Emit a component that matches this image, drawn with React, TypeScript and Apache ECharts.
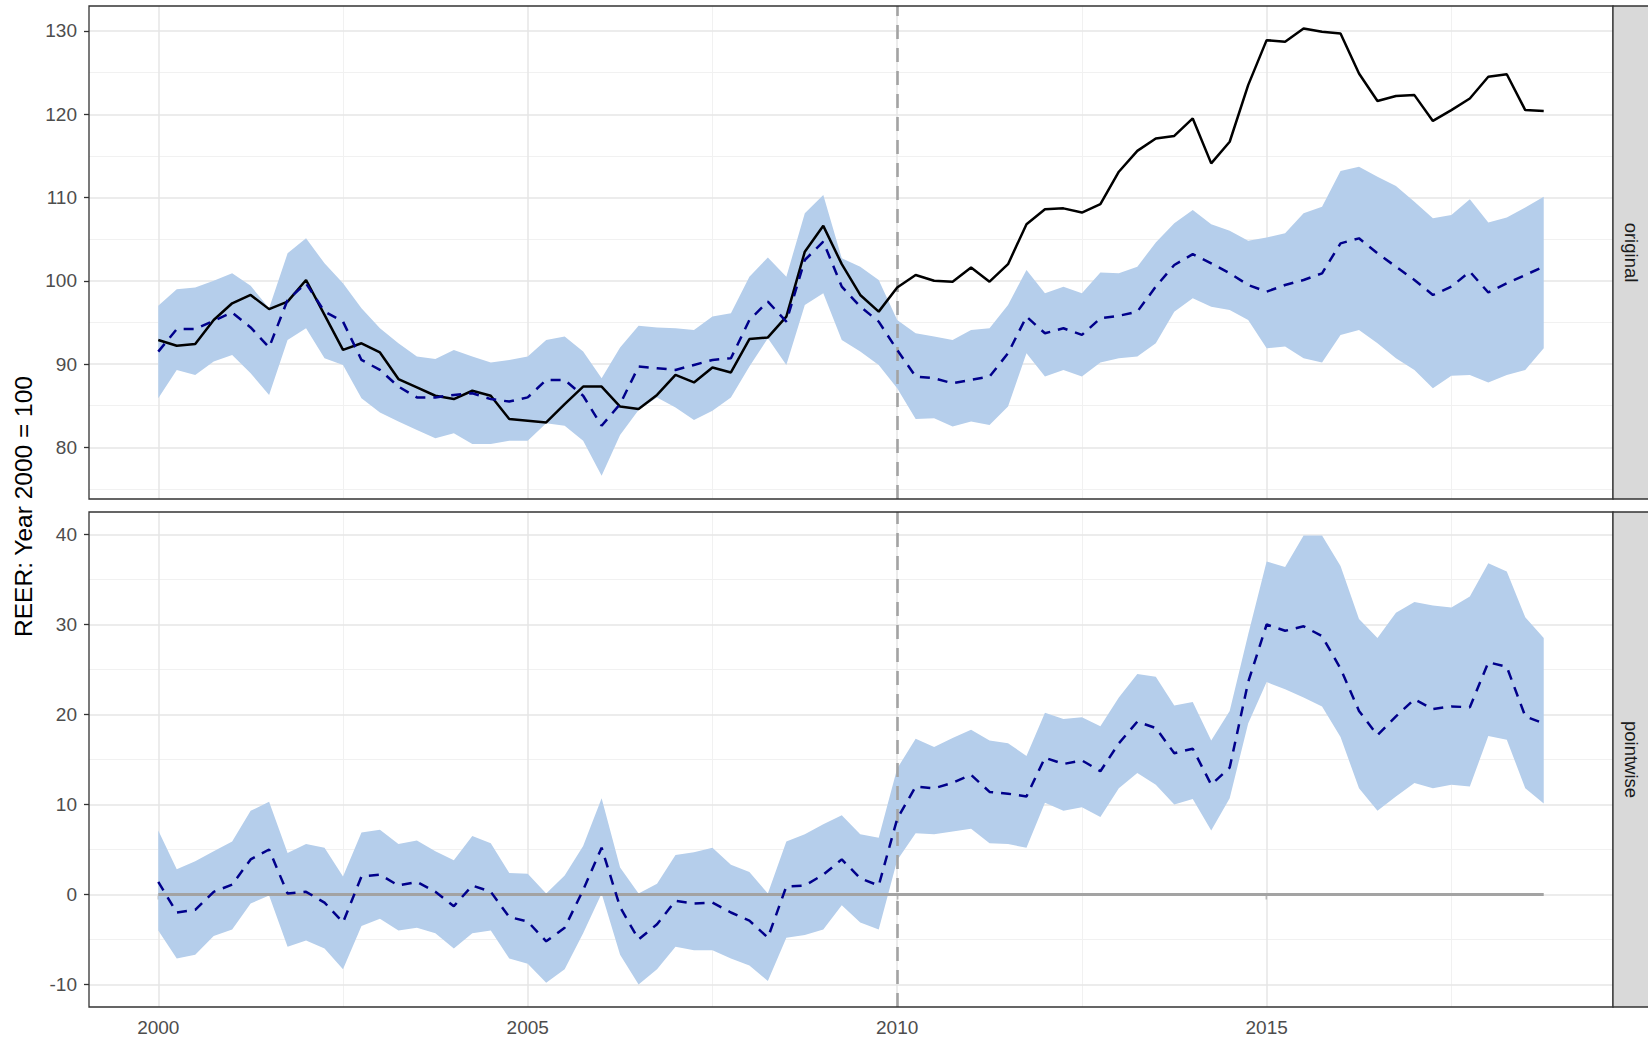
import React, { useEffect, useRef } from "react";
import * as echarts from "echarts";

// ---------- data ----------
const START_YEAR = 2000;
const N_QUARTERS = 76;
const quarters: number[] = Array.from({ length: N_QUARTERS }, (_, i) => START_YEAR + i / 4);

const xTicks = [2000, 2005, 2010, 2015];
const xMinor = [2002.5, 2007.5, 2012.5, 2017.5];
const topTicks = [80, 90, 100, 110, 120, 130];
const topMinor = [75, 85, 95, 105, 115, 125];
const botTicks = [-10, 0, 10, 20, 30, 40];
const botMinor = [-5, 5, 15, 25, 35];
const breakYear = 2010;
const facetLabels = ["original", "pointwise"];
const yTitle = "REER: Year 2000 = 100";

const originalActual = [
  92.9, 92.2, 92.4, 95.3, 97.3, 98.3, 96.6, 97.5, 100.1, 95.9,
  91.7, 92.5, 91.4, 88.2, 87.2, 86.2, 85.8, 86.8, 86.2, 83.4,
  83.2, 83.0, 85.2, 87.3, 87.3, 84.9, 84.6, 86.3, 88.7, 87.8,
  89.6, 89.0, 93.0, 93.2, 95.7, 103.5, 106.6, 102.0, 98.3, 96.3,
  99.2, 100.7, 100.0, 99.9, 101.6, 99.9, 102.0, 106.8, 108.6, 108.7,
  108.2, 109.2, 113.1, 115.6, 117.1, 117.4, 119.5, 114.1, 116.7, 123.5,
  128.9, 128.7, 130.3, 129.9, 129.7, 124.9, 121.6, 122.2, 122.3, 119.2,
  120.5, 121.9, 124.5, 124.8, 120.5, 120.4,
];
const originalMean = [
  91.5, 94.2, 94.2, 95.2, 96.2, 94.4, 92.0, 97.7, 99.7, 96.3,
  95.1, 90.5, 89.3, 87.3, 86.0, 86.0, 86.3, 86.5, 85.8, 85.5,
  86.0, 88.1, 88.1, 86.2, 82.6, 85.2, 89.7, 89.5, 89.3, 89.9,
  90.5, 90.7, 95.3, 97.5, 95.1, 102.5, 104.7, 99.3, 96.9, 95.1,
  91.7, 88.5, 88.3, 87.7, 88.1, 88.5, 91.3, 95.7, 93.7, 94.3,
  93.5, 95.5, 95.8, 96.3, 99.3, 101.9, 103.2, 102.1, 100.9, 99.5,
  98.7, 99.5, 100.1, 100.9, 104.5, 105.1, 103.3, 101.7, 100.1, 98.3,
  99.3, 101.1, 98.6, 99.7, 100.7, 101.7,
];
const originalUpper = [
  97.0, 99.0, 99.2, 100.0, 100.9, 99.4, 96.7, 103.3, 105.1, 102.1,
  99.7, 96.7, 94.3, 92.5, 90.9, 90.6, 91.7, 90.9, 90.2, 90.5,
  90.9, 92.9, 93.3, 91.5, 88.3, 92.0, 94.6, 94.4, 94.3, 94.1,
  95.7, 96.1, 100.5, 102.8, 100.5, 108.1, 110.3, 102.7, 101.7, 100.1,
  95.3, 93.7, 93.3, 92.9, 94.1, 94.3, 97.1, 101.3, 98.5, 99.3,
  98.5, 101.0, 100.9, 101.7, 104.6, 106.9, 108.5, 106.8, 106.0, 104.8,
  105.2, 105.7, 108.1, 108.9, 113.2, 113.7, 112.5, 111.4, 109.5, 107.5,
  107.9, 109.8, 107.0, 107.6, 108.8, 110.1,
];
const originalLower = [
  85.9, 89.3, 88.7, 90.3, 91.1, 88.9, 86.3, 92.9, 94.3, 90.7,
  89.9, 85.9, 84.2, 83.1, 82.1, 81.1, 81.7, 80.4, 80.4, 80.8,
  80.8, 82.9, 82.6, 80.8, 76.6, 81.5, 84.5, 86.0, 84.8, 83.3,
  84.4, 86.0, 89.7, 93.1, 89.9, 97.1, 98.5, 92.9, 91.5, 89.9,
  87.1, 83.4, 83.5, 82.5, 83.1, 82.7, 84.9, 91.3, 88.5, 89.3,
  88.5, 90.2, 90.7, 90.9, 92.5, 96.3, 97.9, 96.9, 96.5, 95.3,
  91.9, 92.1, 90.7, 90.2, 93.5, 94.1, 92.5, 90.7, 89.3, 87.1,
  88.6, 88.7, 87.8, 88.7, 89.3, 91.9,
];
const pointwiseMean = [
  1.4, -2.0, -1.7, 0.3, 1.1, 3.9, 5.0, 0.1, 0.3, -0.9,
  -3.1, 2.0, 2.2, 1.0, 1.4, 0.3, -1.3, 1.0, 0.3, -2.5,
  -3.0, -5.2, -3.7, 0.5, 5.2, -1.4, -5.0, -3.3, -0.7, -1.0,
  -0.9, -2.0, -2.9, -4.8, 0.9, 1.0, 2.2, 3.9, 1.8, 1.0,
  8.4, 12.0, 11.8, 12.4, 13.3, 11.4, 11.2, 10.9, 15.2, 14.5,
  14.9, 13.7, 16.8, 19.2, 18.5, 15.7, 16.2, 12.2, 14.1, 23.6,
  30.0, 29.3, 29.8, 28.7, 25.1, 20.4, 17.7, 19.8, 21.7, 20.6,
  20.9, 20.8, 25.8, 25.3, 19.8, 19.0,
];
const pointwiseUpper = [
  7.1, 2.8, 3.7, 4.8, 5.9, 9.3, 10.3, 4.6, 5.6, 5.2,
  2.0, 6.9, 7.2, 5.6, 6.0, 4.8, 3.8, 6.5, 5.7, 2.4,
  2.3, 0.1, 2.1, 5.4, 10.7, 3.0, 0.1, 1.2, 4.4, 4.7,
  5.2, 3.3, 2.5, 0.1, 5.9, 6.7, 7.8, 8.8, 6.7, 6.3,
  14.0, 17.3, 16.4, 17.4, 18.3, 17.1, 16.8, 15.4, 20.2, 19.5,
  19.7, 18.7, 21.9, 24.5, 24.2, 21.0, 21.4, 17.1, 20.4, 28.9,
  37.0, 36.4, 39.9, 39.9, 36.5, 30.6, 28.5, 31.3, 32.5, 32.1,
  31.9, 33.1, 36.8, 35.9, 30.8, 28.5,
];
const pointwiseLower = [
  -4.0, -7.1, -6.7, -4.6, -3.9, -1.0, -0.1, -5.8, -5.1, -6.0,
  -8.3, -3.5, -2.7, -4.0, -3.7, -4.3, -6.0, -4.3, -4.0, -7.1,
  -7.7, -9.8, -8.3, -4.3, 0.1, -6.7, -10.0, -8.3, -5.8, -6.2,
  -6.2, -7.1, -7.9, -9.6, -4.8, -4.5, -3.9, -1.2, -3.1, -3.9,
  3.8, 6.8, 6.7, 7.0, 7.3, 5.7, 5.6, 5.2, 10.2, 9.3,
  9.7, 8.6, 11.8, 13.5, 12.2, 10.0, 10.6, 7.1, 10.7, 19.0,
  23.6, 22.8, 21.9, 20.9, 17.5, 11.8, 9.3, 10.9, 12.4, 11.8,
  12.2, 12.0, 17.6, 17.2, 11.8, 10.1,
];
const zeroLevel = 0;

// ---------- styling ----------
const FONT = "Liberation Sans, Arial, sans-serif";
const BAND = "#B5CEEB";
const MEAN = "#00008B";
const MAJOR = { color: "#E6E6E6", width: 1.5, type: "solid" as const };
const MINOR = { color: "#F1F1F1", width: 1, type: "solid" as const };
const TICK_FONT = 19;

const X_MIN = 1999.0625;
const X_MAX = 2019.6875;

const zip = (xs: number[], ys: number[]) => xs.map((x, i) => [x, ys[i]]);

function gridLines(yMajor: number[], yMinor: number[]) {
  return {
    silent: true,
    z: 1,
    symbol: ["none", "none"],
    label: { show: false },
    emphasis: { disabled: true },
    animation: false,
    data: [
      ...xMinor.map((v) => ({ xAxis: v, lineStyle: MINOR })),
      ...yMinor.map((v) => ({ yAxis: v, lineStyle: MINOR })),
      ...xTicks.map((v) => ({ xAxis: v, lineStyle: MAJOR })),
      ...yMajor.map((v) => ({ yAxis: v, lineStyle: MAJOR })),
    ],
  };
}

const breakLine = {
  silent: true,
  z: 3,
  symbol: ["none", "none"],
  label: { show: false },
  emphasis: { disabled: true },
  animation: false,
  data: [{ xAxis: breakYear, lineStyle: { color: "#A3A3A3", width: 2.6, type: [14, 9] } }],
};

// ribbon drawn as one polygon through the axis scales
function bandSeries(idx: number, lower: number[], upper: number[], yMaj: number[], yMin: number[]) {
  const rows = quarters.map((x, i) => [x, lower[i], upper[i]]);
  return [
    {
      type: "line",
      xAxisIndex: idx,
      yAxisIndex: idx,
      data: zip(quarters, lower),
      symbol: "none",
      lineStyle: { opacity: 0, width: 0 },
      z: 1,
      silent: true,
      markLine: gridLines(yMaj, yMin),
    },
    {
      type: "custom",
      xAxisIndex: idx,
      yAxisIndex: idx,
      data: rows,
      encode: { x: 0, y: [1, 2] },
      silent: true,
      z: 2,
      clip: true,
      renderItem: (params: any, api: any) => {
        if (params.dataIndex !== 0) return null;
        const top = rows.map((r) => api.coord([r[0], r[2]]));
        const bottom = rows.map((r) => api.coord([r[0], r[1]])).reverse();
        return {
          type: "polygon",
          shape: { points: top.concat(bottom) },
          style: { fill: BAND, stroke: "none" },
        };
      },
    },
  ];
}

function meanSeries(idx: number, values: number[]) {
  return {
    type: "line",
    xAxisIndex: idx,
    yAxisIndex: idx,
    data: zip(quarters, values),
    symbol: "none",
    lineStyle: { color: MEAN, width: 2.5, type: [10, 8] },
    z: 5,
    silent: true,
  };
}

function xAxis(gridIndex: number, showLabels: boolean) {
  return {
    type: "value",
    gridIndex,
    min: X_MIN,
    max: X_MAX,
    axisLine: { show: false },
    splitLine: { show: false },
    axisTick: {
      show: showLabels,
      customValues: xTicks,
      length: 5,
      lineStyle: { color: "#333333", width: 1.3 },
    },
    axisLabel: {
      show: showLabels,
      customValues: xTicks,
      color: "#4D4D4D",
      fontSize: TICK_FONT,
      fontFamily: FONT,
      margin: 11,
      formatter: (v: number) => String(v),
    },
  };
}

function yAxis(gridIndex: number, min: number, max: number, ticks: number[]) {
  return {
    type: "value",
    gridIndex,
    min,
    max,
    axisLine: { show: false },
    splitLine: { show: false },
    axisTick: {
      show: true,
      customValues: ticks,
      length: 5,
      lineStyle: { color: "#333333", width: 1.3 },
    },
    axisLabel: {
      customValues: ticks,
      color: "#4D4D4D",
      fontSize: TICK_FONT,
      fontFamily: FONT,
      margin: 12,
      formatter: (v: number) => String(v),
    },
  };
}

const PANEL_LEFT = 89;
const PANEL_W = 1524;
const TOP_Y = 6;
const TOP_H = 493;
const BOT_Y = 512;
const BOT_H = 495;

export default function App() {
  const ref = useRef<HTMLDivElement>(null);

  useEffect(() => {
    if (!ref.current) return;
    const chart = echarts.init(ref.current, undefined, { renderer: "svg" });
    const option: any = {
      animation: false,
      backgroundColor: "#FFFFFF",
      textStyle: { fontFamily: FONT },
      grid: [
        { left: PANEL_LEFT, top: TOP_Y, width: PANEL_W, height: TOP_H, show: true, borderColor: "#333333", borderWidth: 1.3, backgroundColor: "transparent", z: 6 },
        { left: PANEL_LEFT, top: BOT_Y, width: PANEL_W, height: BOT_H, show: true, borderColor: "#333333", borderWidth: 1.3, backgroundColor: "transparent", z: 6 },
      ],
      xAxis: [xAxis(0, false), xAxis(1, true)],
      yAxis: [yAxis(0, 73.8, 133.0, topTicks), yAxis(1, -12.5, 42.5, botTicks)],
      series: [
        ...bandSeries(0, originalLower, originalUpper, topTicks, topMinor),
        {
          type: "line",
          xAxisIndex: 0,
          yAxisIndex: 0,
          data: zip(quarters, originalActual),
          symbol: "none",
          lineStyle: { color: "#000000", width: 2.5 },
          z: 5,
          silent: true,
          markLine: breakLine,
        },
        meanSeries(0, originalMean),
        ...bandSeries(1, pointwiseLower, pointwiseUpper, botTicks, botMinor),
        {
          type: "line",
          xAxisIndex: 1,
          yAxisIndex: 1,
          data: [
            [quarters[0], zeroLevel],
            [quarters[quarters.length - 1], zeroLevel],
          ],
          symbol: "none",
          lineStyle: { color: "#A3A3A3", width: 2.8 },
          z: 4,
          silent: true,
          markLine: breakLine,
        },
        meanSeries(1, pointwiseMean),
      ],
      graphic: [
        {
          type: "rect",
          shape: { x: PANEL_LEFT + PANEL_W, y: TOP_Y, width: 40, height: TOP_H },
          style: { fill: "#D9D9D9", stroke: "#333333", lineWidth: 1.3 },
          z: 10,
        },
        {
          type: "rect",
          shape: { x: PANEL_LEFT + PANEL_W, y: BOT_Y, width: 40, height: BOT_H },
          style: { fill: "#D9D9D9", stroke: "#333333", lineWidth: 1.3 },
          z: 10,
        },
        {
          type: "text",
          x: 1631,
          y: TOP_Y + TOP_H / 2,
          rotation: -Math.PI / 2,
          style: { text: facetLabels[0], fill: "#1A1A1A", fontSize: 18.5, fontFamily: FONT, align: "center", verticalAlign: "middle" },
          z: 11,
        },
        {
          type: "text",
          x: 1631,
          y: BOT_Y + BOT_H / 2,
          rotation: -Math.PI / 2,
          style: { text: facetLabels[1], fill: "#1A1A1A", fontSize: 18.5, fontFamily: FONT, align: "center", verticalAlign: "middle" },
          z: 11,
        },
        {
          type: "text",
          x: 23,
          y: (TOP_Y + BOT_Y + BOT_H) / 2,
          rotation: Math.PI / 2,
          style: { text: yTitle, fill: "#000000", fontSize: 24.5, fontFamily: FONT, align: "center", verticalAlign: "middle" },
          z: 11,
        },
      ],
    };
    chart.setOption(option);
    return () => chart.dispose();
  }, []);

  return (
    <div
      ref={ref}
      style={{ position: "absolute", left: 0, top: 0, width: 1648, height: 1040, background: "#fff" }}
    />
  );
}
